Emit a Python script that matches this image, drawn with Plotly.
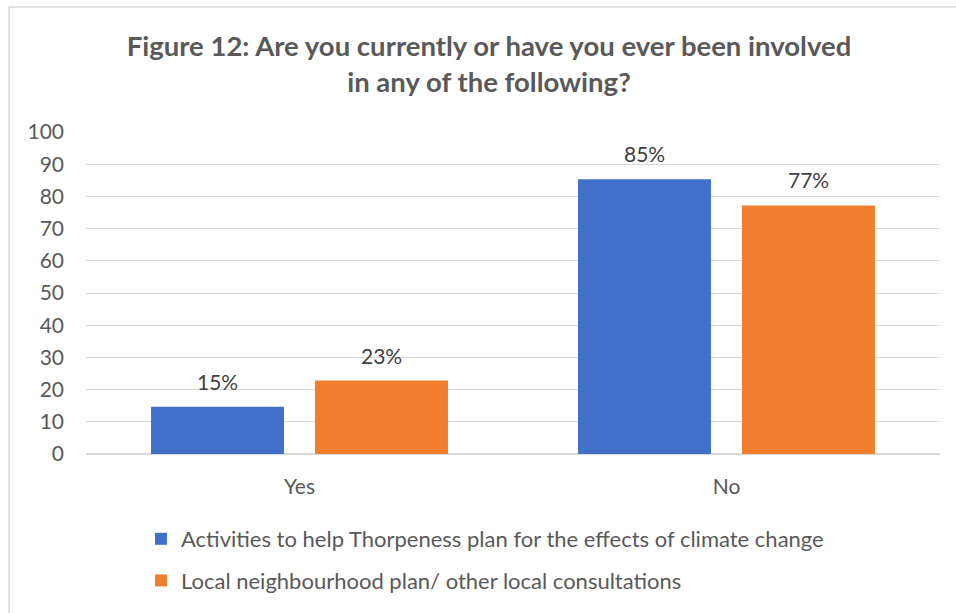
import plotly.graph_objects as go

categories = ["Yes", "No"]
series_names = [
    "Activities to help Thorpeness plan for the effects of climate change",
    "Local neighbourhood plan/ other local consultations",
]
activities = [14.7, 85.3]
local_plan = [22.8, 77.2]
series_values = [activities, local_plan]
series_colors = ["#4070C8", "#F07E2C"]
y_ticks = list(range(0, 101, 10))

FONT = "Lato"
W, H = 956, 613
L, R, T, B = 86, 16, 132, 159
pw, ph = W - L - R, H - T - B
BARGAP, GROUPGAP = 0.232, 0.189

fig = go.Figure()
for name, vals, col in zip(series_names, series_values, series_colors):
    fig.add_trace(go.Bar(
        x=categories, y=vals, name=name,
        marker=dict(color=col, line=dict(width=0)),
        legendgroup=name,
    ))

# data labels above bars
slot = pw / len(categories) * (1 - BARGAP) / 2
for i, vals in enumerate(series_values):
    for c, v in zip(categories, vals):
        fig.add_annotation(
            x=c, y=v, text=f"{round(v)}%", showarrow=False,
            xshift=(i - 0.5) * slot, yshift=11, yanchor="bottom",
            font=dict(family=FONT, size=21, color="#404040"),
        )

def px(xp):
    return (xp - L) / pw

def py(yp):
    return (H - B - yp) / ph

# chart frame (light border)
fig.add_shape(type="line", xref="paper", yref="paper",
              x0=px(9), x1=px(960), y0=py(7), y1=py(7),
              line=dict(color="#D9D9D9", width=1.5))
fig.add_shape(type="line", xref="paper", yref="paper",
              x0=px(9), x1=px(9), y0=py(7), y1=py(620),
              line=dict(color="#D9D9D9", width=1.5))

fig.update_layout(
    width=W, height=H,
    margin=dict(l=L, r=R, t=T, b=B, autoexpand=False),
    paper_bgcolor="white", plot_bgcolor="white",
    barmode="group", bargap=BARGAP, bargroupgap=GROUPGAP,
    title=dict(
        text="Figure 12: Are you currently or have you ever been involved<br>in any of the following?",
        xref="container", yref="container",
        x=489 / W, xanchor="center", y=1 - 56 / H, yanchor="top",
        font=dict(family=FONT, size=27.5, color="#595959", weight="bold"),
    ),
    font=dict(family=FONT, size=21, color="#595959"),
    yaxis=dict(
        range=[0, 100], tickvals=y_ticks, showgrid=True,
        gridcolor="#D9D9D9", gridwidth=1, zeroline=True, zerolinecolor="#D9D9D9",
        showline=False, ticks="", ticklabelstandoff=21,
        tickfont=dict(family=FONT, size=21, color="#595959"),
    ),
    xaxis=dict(
        showline=False, ticks="", ticklabelstandoff=18,
        tickfont=dict(family=FONT, size=21, color="#595959"),
    ),
    showlegend=True,
    legend=dict(
        orientation="v", xref="container", yref="container",
        x=141 / W, xanchor="left", y=1 - 518 / H, yanchor="top",
        font=dict(family=FONT, size=22, color="#595959"),
        tracegroupgap=10, bgcolor="rgba(0,0,0,0)",
    ),
)

fig.write_html("out.html", config={"displayModeBar": False},
               post_script="document.body.style.margin='0';")
